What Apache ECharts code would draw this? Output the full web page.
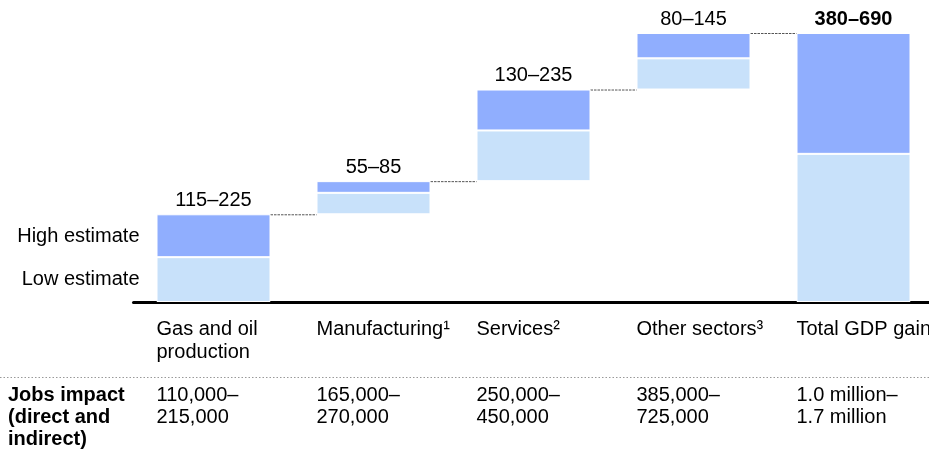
<!DOCTYPE html>
<html>
<head>
<meta charset="utf-8">
<script src="https://cdn.jsdelivr.net/npm/echarts@6/dist/echarts.min.js"></script>
<style>
html,body{margin:0;padding:0;background:#fff;}
#chart{width:929px;height:458px;}
</style>
</head>
<body>
<div id="chart"></div>
<script>
// ---- data ----
const categories = ['Gas and oil\nproduction', 'Manufacturing¹', 'Services²', 'Other sectors³', 'Total GDP gain'];
const lowValues = [115, 55, 130, 80, 380];
const highValues = [225, 85, 235, 145, 690];
const rangeLabels = ['115–225', '55–85', '130–235', '80–145', '380–690'];
const jobsLow = ['110,000–', '165,000–', '250,000–', '385,000–', '1.0 million–'];
const jobsHigh = ['215,000', '270,000', '450,000', '725,000', '1.7 million'];
const jobsTitle = 'Jobs impact\n(direct and\nindirect)';
const legendHigh = 'High estimate';
const legendLow = 'Low estimate';

// ---- derived (waterfall) ----
const n = categories.length;
const baseValues = [];
let cum = 0;
for (let i = 0; i < n; i++) {
  if (i === n - 1) { baseValues.push(0); }
  else { baseValues.push(cum); cum += highValues[i]; }
}
const incValues = highValues.map((h, i) => h - lowValues[i]);
const connectorData = [];
for (let i = 0; i < n - 1; i++) {
  connectorData.push([i, baseValues[i] + highValues[i]]);
}

const FONT = 'Liberation Sans, Arial, sans-serif';
const FS = 20;
const BAR_W = 114;
const DARK = '#90aefe';
const LIGHT = '#c8e1fa';

const chart = echarts.init(document.getElementById('chart'));
chart.setOption({
  animation: false,
  textStyle: { fontFamily: FONT },
  grid: { left: 133.5, top: 33, width: 800, height: 269, containLabel: false, outerBoundsMode: 'none' },
  xAxis: {
    type: 'category',
    data: categories,
    axisLine: { lineStyle: { color: '#000', width: 3 } },
    axisTick: { show: false },
    axisLabel: { show: false },
    splitLine: { show: false }
  },
  yAxis: { type: 'value', min: 0, max: 690, show: false },
  series: [
    {
      type: 'bar', stack: 'w', barWidth: BAR_W, silent: true,
      itemStyle: { color: 'transparent' },
      data: baseValues
    },
    {
      type: 'bar', stack: 'w', barWidth: BAR_W,
      itemStyle: { color: LIGHT, borderColor: '#fff', borderWidth: 1 },
      data: lowValues.map((v, i) => i === 0 ? {
        value: v,
        label: { show: true, position: 'left', distance: 17, formatter: legendLow,
                 color: '#000', fontSize: FS, fontFamily: FONT }
      } : v)
    },
    {
      type: 'bar', stack: 'w', barWidth: BAR_W,
      itemStyle: { color: DARK, borderColor: '#fff', borderWidth: 1 },
      label: {
        show: true, position: 'top', distance: 4, color: '#000',
        fontSize: FS, fontFamily: FONT,
        formatter: p => rangeLabels[p.dataIndex]
      },
      data: incValues.map((v, i) => {
        if (i === n - 1) return { value: v, label: { fontWeight: 'bold' } };
        return v;
      })
    },
    {
      type: 'custom',
      silent: true,
      data: connectorData,
      renderItem: function (params, api) {
        const i = api.value(0);
        const val = api.value(1);
        const p1 = api.coord([i, val]);
        const p2 = api.coord([i + 1, val]);
        return {
          type: 'line',
          shape: { x1: p1[0] + BAR_W / 2, y1: p1[1] + 0.5, x2: p2[0] - BAR_W / 2, y2: p1[1] + 0.5 },
          style: { stroke: '#555', lineWidth: 1, lineDash: [2.5, 1] }
        };
      }
    }
  ]
});

function layoutText() {
  const g = [];
  const yTopHigh = chart.convertToPixel({ yAxisIndex: 0 }, highValues[0]);
  const yLow = chart.convertToPixel({ yAxisIndex: 0 }, lowValues[0]);
  const x0 = chart.convertToPixel({ xAxisIndex: 0 }, 0) - BAR_W / 2;
  g.push({ type: 'text', x: x0 - 17, y: (yTopHigh + yLow) / 2 + 1,
    style: { text: legendHigh, fill: '#000', font: FS + 'px ' + FONT, align: 'right', verticalAlign: 'middle' } });
  for (let i = 0; i < n; i++) {
    const x = chart.convertToPixel({ xAxisIndex: 0 }, i) - BAR_W / 2;
    g.push({ type: 'text', x: x, y: 318,
      style: { text: categories[i], fill: '#000', font: FS + 'px ' + FONT, lineHeight: 23, align: 'left', verticalAlign: 'top' } });
    g.push({ type: 'text', x: x, y: 384,
      style: { text: jobsLow[i] + '\n' + jobsHigh[i], fill: '#000', font: FS + 'px ' + FONT, lineHeight: 22, align: 'left', verticalAlign: 'top' } });
  }
  g.push({ type: 'text', x: 8, y: 384,
    style: { text: jobsTitle, fill: '#000', font: 'bold ' + FS + 'px ' + FONT, lineHeight: 22, align: 'left', verticalAlign: 'top' } });
  g.push({ type: 'line', shape: { x1: 0, y1: 377.5, x2: 929, y2: 377.5 },
    style: { stroke: '#999', lineWidth: 1, lineDash: [1.5, 2] } });
  chart.setOption({ graphic: g });
}
layoutText();
</script>
</body>
</html>
